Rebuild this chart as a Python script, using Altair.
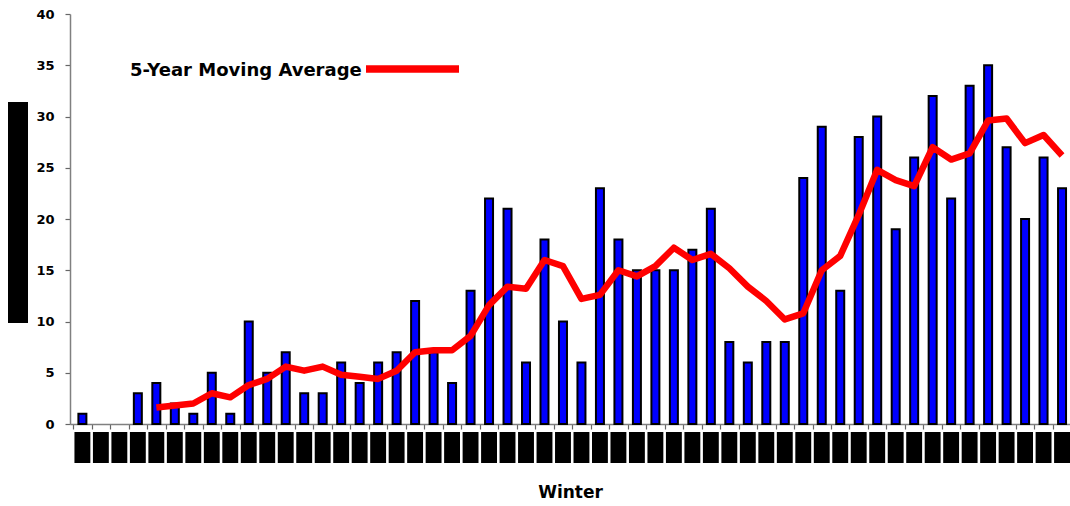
import altair as alt
import pandas as pd

# Count per winter, oldest first
counts = [1, 0, 0, 3, 4, 2, 1, 5, 1, 10,
          5, 7, 3, 3, 6, 4, 6, 7, 12, 7,
          4, 13, 22, 21, 6, 18, 10, 6, 23, 18,
          15, 15, 15, 17, 21, 8, 6, 8, 8, 24,
          29, 13, 28, 30, 19, 26, 32, 22, 33, 35,
          27, 20, 26, 23]

# Trailing 5-year moving average, first value at the fifth winter
moving_avg = [1.6, 1.8, 2.0, 3.0, 2.6, 3.8, 4.4, 5.6, 5.2, 5.6,
              4.8, 4.6, 4.4, 5.2, 7.0, 7.2, 7.2, 8.6, 11.6, 13.4,
              13.2, 16.0, 15.4, 12.2, 12.6, 15.0, 14.4, 15.4, 17.2, 16.0,
              16.6, 15.2, 13.4, 12.0, 10.2, 10.8, 15.0, 16.4, 20.4, 24.8,
              23.8, 23.2, 27.0, 25.8, 26.4, 29.6, 29.8, 27.4, 28.2, 26.2]
avg_start = len(counts) - len(moving_avg)

y_ticks = [0, 5, 10, 15, 20, 25, 30, 35, 40]
legend_label = "5-Year Moving Average"
x_title = "Winter"

FONT = "DejaVu Sans"

bars_df = pd.DataFrame({"winter": list(range(len(counts))), "count": counts})
bars_df["lo"] = bars_df["winter"] - 0.43
bars_df["hi"] = bars_df["winter"] + 0.43
avg_df = pd.DataFrame({
    "winter": list(range(avg_start, avg_start + len(moving_avg))),
    "avg": moving_avg,
})
one_row = pd.DataFrame({"k": [0]})

x_scale = alt.Scale(domain=[-0.4, 53.16], nice=False, zero=False)
y_scale = alt.Scale(domain=[0, 40], nice=False)

# Ticks sit on the boundaries between winters
boundary_ticks = [i + 0.5 for i in range(-1, len(counts) - 1)]

x_axis = alt.Axis(
    values=boundary_ticks, tickCount=len(boundary_ticks),
    labels=False, tickSize=5, tickColor="#666666", tickWidth=1.2,
    domainColor="#808080", domainWidth=1.5, grid=False,
    title=x_title, titleFont=FONT, titleFontSize=17, titleFontWeight="bold",
    titleColor="black", titlePadding=55,
)
y_axis = alt.Axis(
    values=y_ticks, tickSize=5, tickColor="#666666", tickWidth=1.2,
    domainColor="#808080", domainWidth=1.5, grid=False,
    labelFont=FONT, labelFontSize=13, labelFontWeight="bold", labelColor="black",
    labelPadding=11, title=None,
)

bars = alt.Chart(bars_df).transform_filter("datum.count > 0").mark_bar(
    size=8, color="#0000FF", stroke="black", strokeWidth=2
).encode(
    x=alt.X("winter:Q", scale=x_scale, axis=x_axis),
    y=alt.Y("count:Q", scale=y_scale, axis=y_axis),
)

line = alt.Chart(avg_df).mark_line(
    color="#FF0000", strokeWidth=6.5, strokeJoin="round"
).encode(
    x=alt.X("winter:Q", scale=x_scale, axis=x_axis),
    y=alt.Y("avg:Q", scale=y_scale, axis=y_axis),
)

# Blocked-out winter labels under the axis
label_boxes = alt.Chart(bars_df).mark_rect(color="black").encode(
    x=alt.X("lo:Q", scale=x_scale, axis=x_axis),
    x2="hi:Q",
    y=alt.value(418),
    y2=alt.value(449),
)

# Blocked-out vertical axis title
y_title_box = alt.Chart(one_row).mark_rect(color="black").encode(
    x=alt.value(-62), x2=alt.value(-42), y=alt.value(88), y2=alt.value(309)
)

legend_text = alt.Chart(one_row).mark_text(
    text=legend_label, font=FONT, fontSize=18, fontWeight="bold",
    align="left", baseline="alphabetic", color="black"
).encode(x=alt.value(60), y=alt.value(62))

legend_swatch = alt.Chart(one_row).mark_rule(
    color="#FF0000", strokeWidth=7.5
).encode(x=alt.value(296), x2=alt.value(389), y=alt.value(55))

chart = alt.layer(
    bars, line, label_boxes, y_title_box, legend_text, legend_swatch
).properties(
    width=1000, height=410,
    background="white",
    autosize=alt.AutoSizeParams(type="none"),
    padding={"left": 70, "top": 14, "right": 0, "bottom": 82},
).configure_view(stroke=None)

chart.save("out.html", embed_options={"renderer": "svg", "actions": False})
